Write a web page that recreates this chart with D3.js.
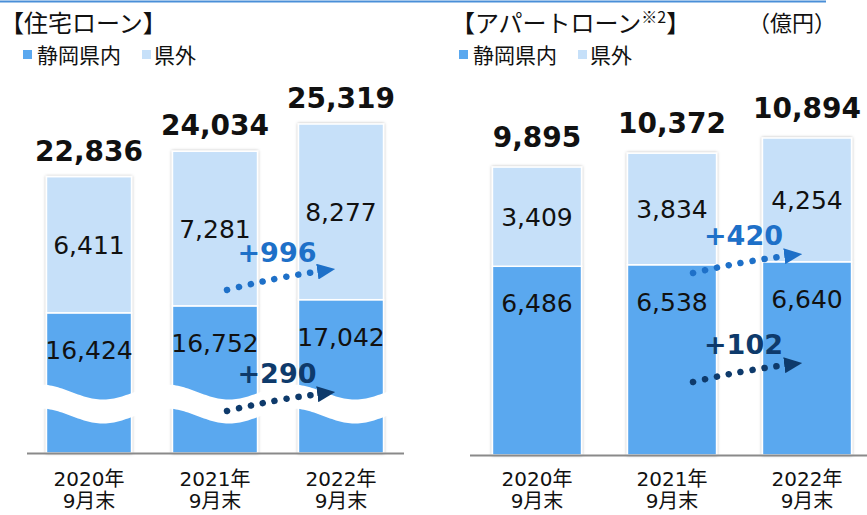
<!DOCTYPE html>
<html lang="ja">
<head>
<meta charset="UTF-8" />
<title>住宅ローン・アパートローン</title>
<script src="https://d3js.org/d3.v7.min.js"></script>
<style>
  html, body { margin: 0; padding: 0; background: #fff; }
  svg { display: block; }
  .jp { font-family: "Noto Sans CJK JP", sans-serif; fill: #111; }
  .num { font-family: "DejaVu Sans", Verdana, sans-serif; fill: #111; }
</style>
</head>
<body>
<svg width="867" height="515"></svg>
<script>
  // data
  const years = ["2020年", "2021年", "2022年"];
  const yearSub = ["9月末", "9月末", "9月末"];

  const housingIn = [16424, 16752, 17042];
  const housingOut = [6411, 7281, 8277];
  const housingTotal = [22836, 24034, 25319];
  const housingBreak = 9820; // axis is cut below this value (wave)

  const aptIn = [6486, 6538, 6640];
  const aptOut = [3409, 3834, 4254];
  const aptTotal = [9895, 10372, 10894];

  const colIn = "#5aa8ef";
  const colOut = "#c6e0f9";
  const arrowOut = "#1e70c8";
  const arrowIn = "#0e3a6b";

  const fmt = d3.format(",");
  const svg = d3.select("svg");

  const defs = svg.append("defs");
  const f = defs.append("filter").attr("id", "shadow")
    .attr("x", "-10%").attr("y", "-5%").attr("width", "120%").attr("height", "110%");
  f.append("feDropShadow").attr("dx", 0).attr("dy", 0).attr("stdDeviation", 1.6)
    .attr("flood-color", "#000").attr("flood-opacity", 0.3);

  [["headOut", arrowOut], ["headIn", arrowIn]].forEach(([id, c]) => {
    defs.append("marker").attr("id", id)
      .attr("markerUnits", "userSpaceOnUse")
      .attr("viewBox", "0 -8 18 16").attr("refX", 0).attr("refY", 0)
      .attr("markerWidth", 18).attr("markerHeight", 16).attr("orient", "auto")
      .append("path").attr("d", "M0,-8L18,0L0,8Z").attr("fill", c);
  });

  // top rule
  svg.append("line").attr("x1", 0).attr("x2", 826).attr("y1", 1.5).attr("y2", 1.5)
    .attr("stroke", "#4a8fd8").attr("stroke-width", 2);

  function legend(x, y) {
    const g = svg.append("g");
    g.append("rect").attr("x", x).attr("y", y - 13).attr("width", 9).attr("height", 9).attr("fill", colIn);
    g.append("text").attr("class", "jp").attr("x", x + 14).attr("y", y).attr("font-size", 21).text("静岡県内");
    g.append("rect").attr("x", x + 119).attr("y", y - 13).attr("width", 9).attr("height", 9).attr("fill", colOut);
    g.append("text").attr("class", "jp").attr("x", x + 131).attr("y", y).attr("font-size", 21).text("県外");
  }

  function arrow(x0, y0, x1, y1, color, marker, label) {
    const dx = x1 - x0, dy = y1 - y0, len = Math.hypot(dx, dy);
    const ex = x1 - dx / len * 18, ey = y1 - dy / len * 18;
    const cx = (x0 + ex) / 2 + 2, cy = (y0 + ey) / 2 - 3;
    svg.append("path")
      .attr("d", `M${x0},${y0}Q${cx},${cy} ${ex},${ey}`)
      .attr("fill", "none").attr("stroke", color).attr("stroke-width", 6.5)
      .attr("stroke-linecap", "round").attr("stroke-dasharray", "0.1 12")
      .attr("marker-end", `url(#${marker})`);
    svg.append("text").attr("class", "num")
      .attr("x", (x0 + x1) / 2 - 4).attr("y", y0 - 28)
      .attr("text-anchor", "middle").attr("font-size", 27).attr("font-weight", "bold")
      .style("fill", color).text(label);
  }

  function panel(o) {
    const x = d3.scaleBand().domain(years).range(o.xRange)
      .paddingInner(o.pad).paddingOuter(o.pad / 2);
    const y = o.y;
    const rows = years.map((yr, i) => ({ yr, inV: o.inV[i], outV: o.outV[i], total: o.total[i] }));

    const bars = svg.append("g").selectAll("g").data(rows).join("g")
      .attr("filter", "url(#shadow)");
    bars.append("rect")
      .attr("x", d => x(d.yr)).attr("width", x.bandwidth())
      .attr("y", d => y(d.inV)).attr("height", d => y.range()[0] - y(d.inV))
      .attr("fill", colIn).attr("stroke", "#fff").attr("stroke-width", 1.5);
    bars.append("rect")
      .attr("x", d => x(d.yr)).attr("width", x.bandwidth())
      .attr("y", d => y(d.total)).attr("height", d => y(d.inV) - y(d.total))
      .attr("fill", colOut).attr("stroke", "#fff").attr("stroke-width", 1.5);

    if (o.wave) o.wave(x);

    svg.append("line").attr("x1", o.axis[0]).attr("x2", o.axis[1])
      .attr("y1", y.range()[0] + 0.5).attr("y2", y.range()[0] + 0.5)
      .attr("stroke", "#8a8a8a").attr("stroke-width", 2);

    const cx = d => x(d.yr) + x.bandwidth() / 2;
    const t = svg.append("g").attr("text-anchor", "middle");
    t.selectAll(".tot").data(rows).join("text").attr("class", "num")
      .attr("x", cx).attr("y", d => y(d.total) - o.totOff)
      .attr("font-size", 28).attr("font-weight", "bold").text(d => fmt(d.total));
    t.selectAll(".out").data(rows).join("text").attr("class", "num")
      .attr("x", cx).attr("y", d => (y(d.total) + y(d.inV)) / 2 + 9)
      .attr("font-size", 25).text(d => fmt(d.outV));
    t.selectAll(".in").data(rows).join("text").attr("class", "num")
      .attr("x", cx).attr("y", d => y(d.inV) + 46)
      .attr("font-size", 25).text(d => fmt(d.inV));

    const xl = svg.append("g").attr("text-anchor", "middle")
      .style("font-family", "'DejaVu Sans', 'Noto Sans CJK JP', sans-serif");
    xl.selectAll(".y1").data(rows).join("text").attr("x", cx).attr("y", 486)
      .attr("font-size", 20).attr("fill", "#111").text(d => d.yr);
    xl.selectAll(".y2").data(rows).join("text").attr("x", cx).attr("y", 508)
      .attr("font-size", 20).attr("fill", "#111").text((d, i) => yearSub[i]);

    // change annotations between the last two years
    const c2 = cx(rows[1]), c3 = cx(rows[2]);
    const a = o.anno;
    arrow(c2 + a.dx0, a.out[0], c3 + a.dx1, a.out[1], arrowOut, "headOut",
      "+" + fmt(rows[2].outV - rows[1].outV));
    arrow(c2 + a.dx0, a.inn[0], c3 + a.dx1, a.inn[1], arrowIn, "headIn",
      "+" + fmt(rows[2].inV - rows[1].inV));
  }

  // 住宅ローン
  svg.append("text").attr("class", "jp").attr("x", 0).attr("y", 32).attr("font-size", 24).text("【住宅ローン】");
  legend(23, 63);

  panel({
    xRange: [26, 404], pad: 0.325, axis: [27, 404],
    y: d3.scaleLinear().domain([housingBreak, d3.max(housingTotal)]).range([453, 124]),
    inV: housingIn, outV: housingOut, total: housingTotal, totOff: 16,
    anno: { dx0: 12, dx1: -6, out: [290, 268], inn: [411, 391] },
    wave: (x) => {
      const x0 = 40, x1 = 392, thick = 24;
      const mid = v => 404 - 7.5 * Math.cos(2 * Math.PI * (v - x0) / 126);
      const xs = d3.range(x0, x1 + 1, 2);
      const top = xs.map(v => [v, mid(v) - thick / 2]);
      const bot = xs.slice().reverse().map(v => [v, mid(v) + thick / 2]);
      svg.append("path").attr("d", d3.line()(top.concat(bot)) + "Z").attr("fill", "#fff");
    }
  });

  // アパートローン
  const t2 = svg.append("text").attr("class", "jp").attr("x", 451).attr("y", 32).attr("font-size", 24);
  t2.append("tspan").text("【アパートローン");
  t2.append("tspan").attr("font-size", 16).attr("dy", -9).text("※2");
  t2.append("tspan").attr("dy", 9).text("】");
  svg.append("text").attr("class", "jp").attr("x", 748).attr("y", 31).attr("font-size", 22).text("（億円）");
  legend(459, 63);

  panel({
    xRange: [469.5, 874.5], pad: 0.34, axis: [470, 867],
    y: d3.scaleLinear().domain([0, d3.max(aptTotal)]).range([455, 138]),
    inV: aptIn, outV: aptOut, total: aptTotal, totOff: 20,
    anno: { dx0: 21, dx1: -5, out: [273, 253], inn: [382, 362] }
  });
</script>
</body>
</html>
